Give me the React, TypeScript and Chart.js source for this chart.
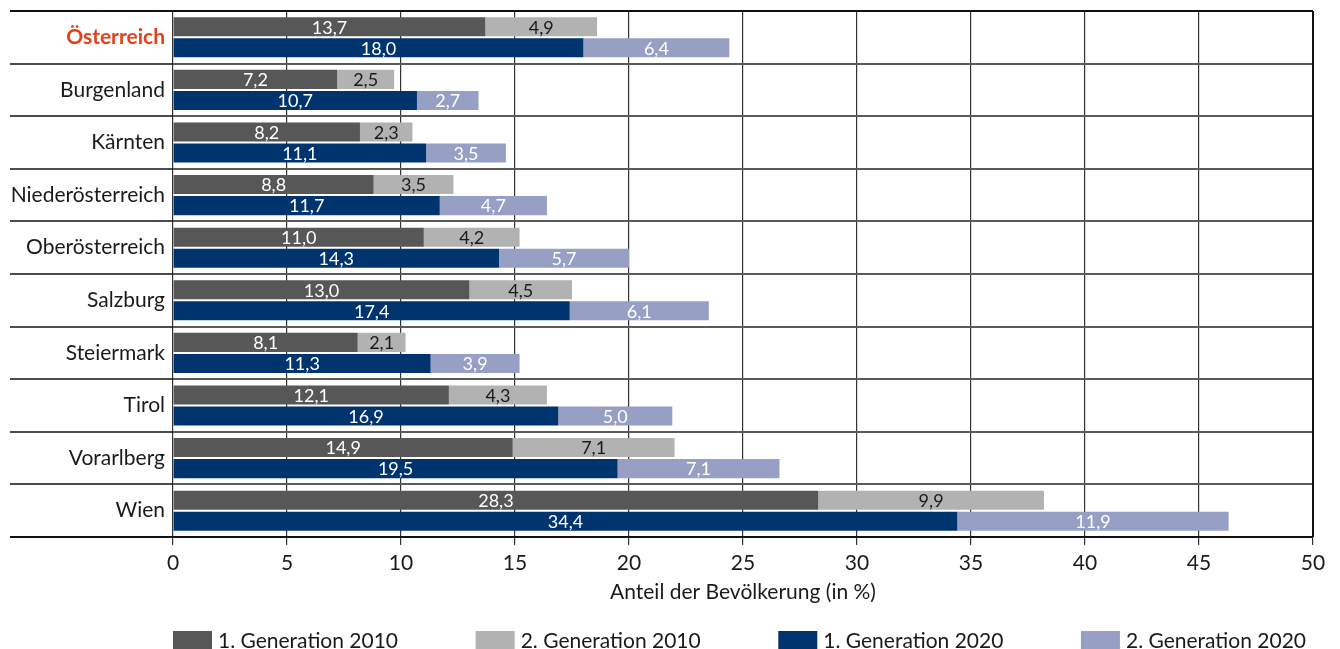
import React, { useEffect, useRef } from "react";
import { Chart, registerables } from "chart.js";

Chart.register(...registerables);

const categories = [
  "Österreich",
  "Burgenland",
  "Kärnten",
  "Niederösterreich",
  "Oberösterreich",
  "Salzburg",
  "Steiermark",
  "Tirol",
  "Vorarlberg",
  "Wien",
];
const gen1_2010 = [13.7, 7.2, 8.2, 8.8, 11.0, 13.0, 8.1, 12.1, 14.9, 28.3];
const gen2_2010 = [4.9, 2.5, 2.3, 3.5, 4.2, 4.5, 2.1, 4.3, 7.1, 9.9];
const gen1_2020 = [18.0, 10.7, 11.1, 11.7, 14.3, 17.4, 11.3, 16.9, 19.5, 34.4];
const gen2_2020 = [6.4, 2.7, 3.5, 4.7, 5.7, 6.1, 3.9, 5.0, 7.1, 11.9];
const seriesLabels = [
  "1. Generation 2010",
  "2. Generation 2010",
  "1. Generation 2020",
  "2. Generation 2020",
];
const seriesColors = ["#575757", "#b2b2b2", "#00346f", "#97a0c4"];
const labelColors = ["#ffffff", "#1a1a1a", "#ffffff", "#ffffff"];
const xMin = 0;
const xMax = 50;
const xStep = 5;
const xTitle = "Anteil der Bevölkerung (in %)";

const FONT = "Lato, 'Open Sans', sans-serif";
const TEXT = 21;

const fmt = (v: number) => v.toFixed(1).replace(".", ",");

const separatorPlugin = {
  id: "separators",
  beforeDatasetsDraw(chart: any) {
    const { ctx, chartArea } = chart;
    const y = chart.scales.y;
    const n = categories.length;
    const step = y.getPixelForValue(1) - y.getPixelForValue(0);
    ctx.save();
    for (let i = 0; i <= n; i++) {
      const py = Math.round(y.getPixelForValue(i) - step / 2);
      const edge = i === 0 || i === n;
      ctx.strokeStyle = "#111";
      ctx.lineWidth = edge ? 2 : 1.5;
      ctx.beginPath();
      ctx.moveTo(2, py);
      ctx.lineTo(chartArea.left, py);
      ctx.stroke();
      ctx.strokeStyle = edge ? "#111" : "#5a5a5a";
      ctx.lineWidth = 2;
      ctx.beginPath();
      ctx.moveTo(chartArea.left, py);
      ctx.lineTo(chartArea.right, py);
      ctx.stroke();
    }
    ctx.strokeStyle = "#111";
    ctx.lineWidth = 2;
    ctx.beginPath();
    ctx.moveTo(chartArea.right, chartArea.top);
    ctx.lineTo(chartArea.right, chartArea.bottom);
    ctx.stroke();
    ctx.restore();
  },
};

const valueLabelPlugin = {
  id: "valueLabels",
  afterDatasetsDraw(chart: any) {
    const { ctx } = chart;
    ctx.save();
    ctx.font = `18px ${FONT}`;
    ctx.textAlign = "center";
    ctx.textBaseline = "middle";
    chart.data.datasets.forEach((ds: any, di: number) => {
      const meta = chart.getDatasetMeta(di);
      meta.data.forEach((el: any, i: number) => {
        const v = ds.data[i];
        const cx = (el.x + el.base) / 2;
        ctx.fillStyle = labelColors[di];
        ctx.fillText(fmt(v), cx, el.y + 1);
      });
    });
    ctx.restore();
  },
};

const legendPlugin = {
  id: "customLegend",
  afterDraw(chart: any) {
    const { ctx, chartArea } = chart;
    ctx.save();
    ctx.font = `${TEXT}px ${FONT}`;
    ctx.textBaseline = "middle";
    ctx.textAlign = "left";
    const boxW = 39;
    const boxH = 18;
    const gapText = 6;
    const widths = chart.data.datasets.map(
      (ds: any) => boxW + gapText + ctx.measureText(ds.label).width
    );
    const total = widths.reduce((a: number, b: number) => a + b, 0);
    const left = chartArea.left;
    const right = chartArea.right - 7;
    const gap = (right - left - total) / (widths.length - 1);
    const top = 623;
    let x = left;
    chart.data.datasets.forEach((ds: any, i: number) => {
      ctx.fillStyle = ds.backgroundColor;
      ctx.fillRect(x, top, boxW, boxH);
      ctx.fillStyle = "#1a1a1a";
      ctx.fillText(ds.label, x + boxW + gapText, top + boxH / 2 + 1);
      x += widths[i] + gap;
    });
    ctx.restore();
  },
};

export default function App() {
  const ref = useRef<HTMLCanvasElement | null>(null);
  useEffect(() => {
    if (!ref.current) return;
    const series = [gen1_2010, gen2_2010, gen1_2020, gen2_2020];
    const stacks = ["2010", "2010", "2020", "2020"];
    const chart = new Chart(ref.current, {
      type: "bar",
      data: {
        labels: categories,
        datasets: series.map((d, i) => ({
          label: seriesLabels[i],
          data: d,
          stack: stacks[i],
          backgroundColor: seriesColors[i],
          borderWidth: 0,
          categoryPercentage: 0.8,
          barPercentage: 0.905,
        })),
      },
      options: {
        indexAxis: "y",
        animation: false,
        responsive: true,
        maintainAspectRatio: false,
        layout: { padding: { left: 2, right: 19, top: 3, bottom: 0 } },
        plugins: {
          legend: { display: false },
          tooltip: { enabled: false },
        },
        scales: {
          x: {
            stacked: true,
            min: xMin,
            max: xMax,
            ticks: {
              stepSize: xStep,
              color: "#1a1a1a",
              font: { family: FONT, size: TEXT },
              padding: 6,
            },
            grid: {
              color: "#333",
              lineWidth: 1.2,
              tickLength: 8,
              tickColor: "#333",
            },
            border: { display: false },
            title: {
              display: true,
              text: xTitle,
              color: "#1a1a1a",
              font: { family: FONT, size: TEXT },
              padding: { top: 0, bottom: 44 },
            },
            afterFit: (scale: any) => {
              scale.height = 112;
            },
          },
          y: {
            grid: { display: false, drawTicks: false },
            border: { display: false },
            ticks: {
              padding: 8,
              color: (c: any) => (c.index === 0 ? "#e2401c" : "#1a1a1a"),
              font: (c: any) =>
                c.index === 0
                  ? { family: FONT, size: TEXT, weight: "bold" }
                  : { family: FONT, size: TEXT },
            },
            afterFit: (scale: any) => {
              scale.width = 163;
              scale.paddingTop = 0;
              scale.paddingBottom = 0;
            },
          },
        },
      },
      plugins: [separatorPlugin, valueLabelPlugin, legendPlugin],
    });
    return () => chart.destroy();
  }, []);
  return (
    <div style={{ width: 1324, height: 641, position: "relative" }}>
      <canvas ref={ref} />
    </div>
  );
}
